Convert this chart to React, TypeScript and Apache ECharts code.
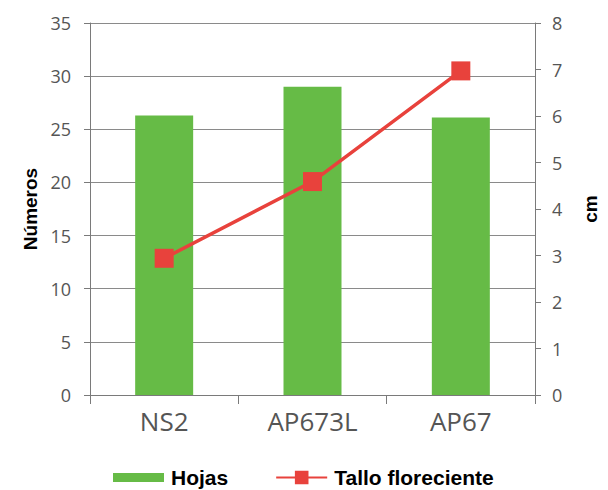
import React, { useEffect, useRef } from "react";
import * as echarts from "echarts";

const categories = ["NS2", "AP673L", "AP67"];
const hojas = [26.3, 29.0, 26.1];
const tallo = [2.94, 4.59, 6.97];
const leftTicks = { min: 0, max: 35, interval: 5 };
const rightTicks = { min: 0, max: 8, interval: 1 };

const GREEN = "#66bb46";
const RED = "#e8423c";
const AXIS = "#7a7a7a";
const LABEL = "#555555";
const BOLD = { fontFamily: "Liberation Sans, Arial", fontWeight: "bold", color: "#000" };

export default function App() {
  const ref = useRef<HTMLDivElement>(null);

  useEffect(() => {
    document.body.style.margin = "0";
    const chart = echarts.init(ref.current!, null, { renderer: "svg" });
    chart.setOption({
      animation: false,
      backgroundColor: "#ffffff",
      grid: { left: 90, right: 73, top: 23, bottom: 95 },
      legend: {
        left: 113,
        top: 467,
        padding: 0,
        itemGap: 47,
        itemWidth: 51,
        itemHeight: 17,
        textStyle: { ...BOLD, fontSize: 21, padding: [0, 0, 0, 2] },
        data: [
          { name: "Hojas", icon: "path://M0,0 h50 v9 h-50 z" },
          { name: "Tallo floreciente" },
        ],
      },
      xAxis: {
        type: "category",
        data: categories,
        boundaryGap: true,
        axisLine: { lineStyle: { color: AXIS, width: 1 } },
        axisTick: { show: true, length: 9, lineStyle: { color: AXIS } },
        axisLabel: { color: LABEL, fontFamily: "Open Sans", fontSize: 26, margin: 13 },
      },
      yAxis: [
        {
          type: "value",
          ...leftTicks,
          name: "Números",
          nameLocation: "middle",
          nameRotate: 90,
          nameGap: 50,
          nameTextStyle: { ...BOLD, fontSize: 19 },
          axisLine: { show: true, lineStyle: { color: AXIS } },
          axisTick: { show: true, length: 6, lineStyle: { color: AXIS } },
          axisLabel: { color: LABEL, fontFamily: "Open Sans", fontSize: 18, margin: 19 },
          splitLine: { show: true, lineStyle: { color: "#8a8a8a", width: 1 } },
        },
        {
          type: "value",
          ...rightTicks,
          position: "right",
          name: "cm",
          nameLocation: "middle",
          nameRotate: 90,
          nameGap: 46,
          nameTextStyle: { ...BOLD, fontSize: 19 },
          axisLine: { show: true, lineStyle: { color: AXIS } },
          axisTick: { show: true, length: 6, lineStyle: { color: AXIS } },
          axisLabel: { color: LABEL, fontFamily: "Open Sans", fontSize: 18, margin: 17 },
          splitLine: { show: false },
        },
      ],
      series: [
        {
          name: "Hojas",
          type: "bar",
          data: hojas,
          barWidth: 58,
          itemStyle: { color: GREEN },
        },
        {
          name: "Tallo floreciente",
          type: "line",
          yAxisIndex: 1,
          data: tallo,
          symbol: "rect",
          symbolSize: 19,
          lineStyle: { color: RED, width: 3.5 },
          itemStyle: { color: RED },
        },
      ],
    });
    return () => chart.dispose();
  }, []);

  return <div ref={ref} style={{ width: 608, height: 490 }} />;
}
